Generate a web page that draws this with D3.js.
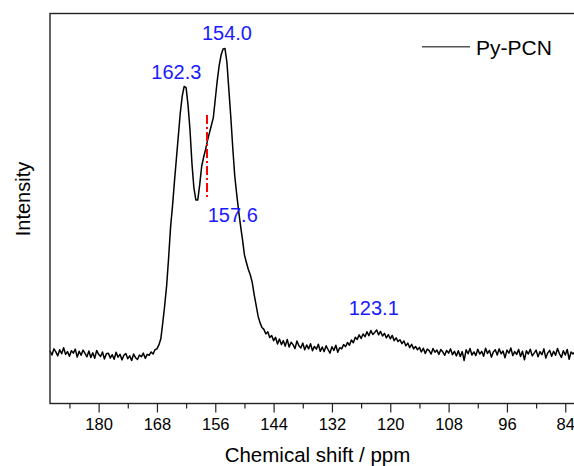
<!DOCTYPE html>
<html>

<head>
  <meta charset='utf-8'>
  <script type="text/javascript" src="https://cdn.jsdelivr.net/npm/d3@7"></script>
  <style type="text/css">
    body {
      margin: 0;
      background: #fff;
    }

    text {
      font-family: Arial, "Liberation Sans", sans-serif;
    }

    .tick line {
      stroke: #222;
      stroke-width: 1.2;
    }
  </style>
</head>

<body>


</body>

<script type="text/javascript">
  let w = 574;
  let h = 466;

  // spectrum: uniform grid from 190 ppm down to 82 ppm, 0.4 ppm apart
  let shiftStart = 190;
  let shiftStep = 0.4;
  let intensity = [
    0.5, -0.8, 1.2, 0.2, -1.1, 0.9, -0.4, 1.6, -0.6, 0.3,
    -1.2, 0.6, -0.2, 1.1, -1.5, 0.4, -0.9, 0.8, -0.3, -1.4,
    0.5, -1.6, -0.1, -1.9, 0.7, -0.6, -1.3, 0.2, -2.1, -0.4,
    -0.2, -1.8, -0.7, -2.2, 0.1, -1.5, -0.6, -2.4, -0.9, -0.3,
    -2.0, -1.1, -2.6, -0.5, -1.7, -2.3, -0.8, -1.4, -0.2, -1.9,
    -0.6, -0.9, 0.2, -0.5, 0.9, 1.2, 2.5, 4.5, 9.8, 15.5,
    22, 31, 41, 48, 56, 63.5, 71, 78.5, 84, 87.2,
    86.8, 81, 73, 62, 54, 50, 50, 55, 61, 64,
    66.5, 69.5, 72, 74.5, 77, 83, 89, 94, 97.5, 99.5,
    99.6, 95, 86, 77, 67, 58, 52, 46.5, 41.5, 37,
    32, 29.5, 27.2, 25.5, 23, 19, 15.5, 12, 9.8, 8.2,
    7.6, 6.1, 6.8, 4.9, 5.6, 3.9, 5.0, 2.8, 4.4, 2.6,
    3.9, 2.1, 4.3, 1.8, 3.4, 2.6, 1.3, 3.8, 2.2, 1.5,
    3.1, 0.9, 2.5, 1.2, 2.9, 0.6, 2.0, 1.1, 2.7, 0.4,
    1.8, 0.3, 2.2, 1.0, -0.2, 1.9, 0.7, 2.4, 0.1, 1.6,
    1.2, 2.6, 1.9, 3.3, 2.4, 4.1, 3.2, 5.0, 4.3, 5.8,
    4.6, 6.1, 5.2, 6.8, 5.5, 7.2, 5.9, 6.6, 7.4, 5.8,
    6.9, 5.4, 6.3, 4.8, 5.9, 4.5, 5.6, 3.9, 4.8, 3.6,
    4.2, 2.9, 3.8, 2.2, 3.1, 1.6, 2.7, 1.2, 2.0, 0.9,
    1.7, 0.2, 1.4, -0.3, 1.1, 0.6, -0.5, 1.3, 0.1, 0.8,
    -0.6, 1.0, 0.2, -0.9, 0.7, -0.2, 1.2, -0.7, 0.4, -1.1,
    0.6, -1.3, 0.3, -2.6, 0.9, -0.4, 1.3, -0.8, 0.2, -1.0,
    1.1, -0.5, 0.4, -1.2, 1.4, -0.3, 0.7, -1.5, 0.2, 0.9,
    -0.8, 1.2, -0.4, 0.5, -1.7, 0.8, -0.2, 1.5, -1.0, 0.3,
    -0.6, 1.0, -1.3, 0.4, -2.4, 0.6, -0.5, 1.1, -1.1, -0.2,
    0.8, -1.4, 0.3, -0.7, 1.2, -1.8, -0.1, 0.7, -1.2, 0.4,
    -0.9, 1.3, -0.4, -1.6, 0.6, -0.8, 1.0, -2.2, 0.2, -0.5,
    0.3
  ];

  let majorTicks = [180, 168, 156, 144, 132, 120, 108, 96, 84];
  let minorTicks = [186, 174, 162, 150, 138, 126, 114, 102, 90];

  // peak labels, anchored in data units
  let peakText = ["154.0", "162.3", "157.6", "123.1"];
  let peakShift = [153.6, 164.0, 152.4, 123.4];
  let peakLevel = [102.4, 89.6, 42.9, 12.3];

  // dash-dot marker for the 157.6 component
  let markShift = 157.7;
  let markLevel = [77.8, 51];

  let seriesName = "Py-PCN";

  let data = intensity.map((v, i) => ({ shift: shiftStart - i * shiftStep, value: v }));

  let x = d3.scaleLinear().domain([190, 82]).range([50, 575]);
  let y = d3.scaleLinear().domain([-16.7, 111.1]).range([403.5, 13.5]);

  var svg = d3.select("body")
    .append("svg")
    .attr("width", w)
    .attr("height", h);

  //Define line generator
  let line = d3.line()
    .x(d => x(d.shift))
    .y(d => y(d.value));

  svg.append("path")
    .datum(data)
    .attr("d", line)
    .attr("fill", "none")
    .attr("stroke", "#000")
    .attr("stroke-width", 1.5)
    .attr("stroke-linejoin", "round");

  // frame
  svg.append("rect")
    .attr("x", 50)
    .attr("y", 13.5)
    .attr("width", 530)
    .attr("height", 390)
    .attr("fill", "none")
    .attr("stroke", "#222")
    .attr("stroke-width", 1.4);

  // axes
  let axis = d3.axisBottom(x)
    .tickValues(majorTicks)
    .tickSize(9)
    .tickPadding(6);
  let gx = svg.append("g")
    .attr("transform", "translate(0,403.5)")
    .call(axis);
  gx.select(".domain").remove();
  gx.selectAll("text")
    .attr("font-size", "16.5px")
    .attr("font-family", "Arial, 'Liberation Sans', sans-serif")
    .attr("fill", "#000");

  let minor = d3.axisBottom(x)
    .tickValues(minorTicks)
    .tickSize(5)
    .tickFormat("");
  let gm = svg.append("g")
    .attr("transform", "translate(0,403.5)")
    .call(minor);
  gm.select(".domain").remove();

  svg.append("text")
    .attr("x", 317.5)
    .attr("y", 461.5)
    .attr("text-anchor", "middle")
    .attr("font-size", "20.5px")
    .text("Chemical shift / ppm");

  svg.append("text")
    .attr("transform", "translate(30,199) rotate(-90)")
    .attr("text-anchor", "middle")
    .attr("font-size", "20px")
    .text("Intensity");

  // peak labels
  svg.selectAll(".peak")
    .data(peakText)
    .enter()
    .append("text")
    .attr("class", "peak")
    .attr("x", (d, i) => x(peakShift[i]))
    .attr("y", (d, i) => y(peakLevel[i]))
    .attr("text-anchor", "middle")
    .attr("font-size", "20px")
    .attr("fill", "#1a1aff")
    .text(d => d);

  svg.append("line")
    .attr("x1", x(markShift))
    .attr("x2", x(markShift))
    .attr("y1", y(markLevel[0]))
    .attr("y2", y(markLevel[1]))
    .attr("stroke", "#ff0000")
    .attr("stroke-width", 2)
    .attr("stroke-dasharray", "9,3,2,3");

  // legend
  svg.append("line")
    .attr("x1", 422)
    .attr("x2", 470)
    .attr("y1", 46.7)
    .attr("y2", 46.7)
    .attr("stroke", "#555")
    .attr("stroke-width", 1.6);
  svg.append("text")
    .attr("x", 476)
    .attr("y", 54.5)
    .attr("font-size", "21px")
    .text(seriesName);

</script>

</html>
